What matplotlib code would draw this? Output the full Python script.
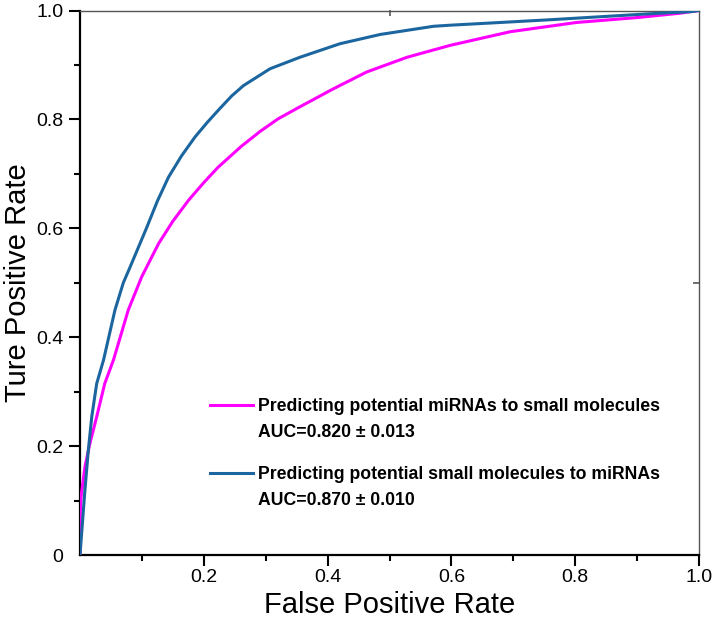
import matplotlib
matplotlib.use("Agg")
import matplotlib.pyplot as plt
from matplotlib.lines import Line2D
import numpy as np

plt.rcParams['font.family'] = ['Liberation Sans', 'DejaVu Sans']

# ROC curve: predicting potential small molecules to miRNAs (blue)
fpr_blue = [0.0, 0.008, 0.0135, 0.019, 0.027, 0.038, 0.0565, 0.07, 0.081, 0.108, 0.125,
            0.143, 0.164, 0.186, 0.206, 0.226, 0.245, 0.264, 0.307, 0.355, 0.42, 0.485, 0.571,
            0.598, 0.679, 0.759, 0.921, 0.988, 1.0]
tpr_blue = [0.0, 0.12, 0.193, 0.254, 0.315, 0.358, 0.45, 0.50, 0.529, 0.602, 0.65,
            0.694, 0.733, 0.768, 0.795, 0.82, 0.843, 0.862, 0.893, 0.914, 0.939, 0.956, 0.971,
            0.973, 0.978, 0.983, 0.994, 0.998, 1.0]

# ROC curve: predicting potential miRNAs to small molecules (magenta)
fpr_mag = [0.0, 0.0005, 0.002, 0.008, 0.016, 0.027, 0.04, 0.054, 0.065, 0.078, 0.0997,
           0.127, 0.15, 0.175, 0.2, 0.223, 0.26, 0.291, 0.32, 0.355, 0.409, 0.463, 0.528,
           0.598, 0.695, 0.802, 0.9, 0.969, 1.0]
tpr_mag = [0.0, 0.08, 0.11, 0.162, 0.205, 0.254, 0.315, 0.358, 0.40, 0.45, 0.511,
           0.572, 0.613, 0.651, 0.684, 0.712, 0.75, 0.778, 0.801, 0.823, 0.856, 0.887, 0.914,
           0.936, 0.961, 0.978, 0.987, 0.995, 1.0]

labels_mag = ["Predicting potential miRNAs to small molecules", "AUC=0.820 \u00b1 0.013"]
labels_blue = ["Predicting potential small molecules to miRNAs", "AUC=0.870 \u00b1 0.010"]

xticks = [0.2, 0.4, 0.6, 0.8, 1.0]
xticklabels = ["0.2", "0.4", "0.6", "0.8", "1.0"]
yticks = [0.0, 0.2, 0.4, 0.6, 0.8, 1.0]
yticklabels = ["0", "0.2", "0.4", "0.6", "0.8", "1.0"]

MAG = "#ff00ff"
BLUE = "#1c66a0"

fig = plt.figure(figsize=(7.15, 6.26), dpi=100)
ax = fig.add_axes([80/715, 71/626, 619/715, 544.5/626])

ax.plot(fpr_mag, tpr_mag, color=MAG, lw=2.2, zorder=3, solid_joinstyle='round')
ax.plot(fpr_blue, tpr_blue, color=BLUE, lw=2.2, zorder=4, solid_joinstyle='round')

ax.set_xlim(0, 1)
ax.set_ylim(0, 1)
ax.set_xticks(xticks)
ax.set_xticklabels(xticklabels)
ax.set_yticks(yticks)
ax.set_yticklabels(yticklabels)
ax.set_xticks(np.arange(0.1, 1.0, 0.2), minor=True)
ax.set_yticks(np.arange(0.1, 1.0, 0.2), minor=True)

ax.tick_params(axis='both', which='major', direction='out', length=8, width=1.5,
               labelsize=14, colors='black')
ax.tick_params(axis='x', which='major', pad=2)
ax.tick_params(axis='y', which='major', pad=4)
ax.tick_params(axis='both', which='minor', direction='out', length=4.5, width=1.5)
ax.yaxis.get_major_ticks()[0].tick1line.set_visible(False)

for s in ['left', 'bottom']:
    ax.spines[s].set_linewidth(1.6)
    ax.spines[s].set_color('black')
for s in ['top', 'right']:
    ax.spines[s].set_linewidth(1.0)
    ax.spines[s].set_color('#555555')

# inner ticks on top/right at 0.5
ax2 = ax.secondary_xaxis('top')
ax2.set_xticks([0.5])
ax2.set_xticklabels([])
ax2.tick_params(direction='in', length=4, width=1.2, colors='#555555')
ax2.spines['top'].set_visible(False)
ay2 = ax.secondary_yaxis('right')
ay2.set_yticks([0.5])
ay2.set_yticklabels([])
ay2.tick_params(direction='in', length=4, width=1.2, colors='#555555')
ay2.spines['right'].set_visible(False)

ax.set_xlabel("False Positive Rate", fontsize=21, labelpad=4)
ax.set_ylabel("Ture Positive Rate", fontsize=21, labelpad=3)

def make_leg(color, labels, anchor):
    handles = [Line2D([], [], color=color, lw=2.2), Line2D([], [], color='none')]
    leg = ax.legend(handles, labels, loc='upper left', bbox_to_anchor=anchor,
                    frameon=False, borderpad=0, borderaxespad=0,
                    handlelength=2.45, handletextpad=0.3, labelspacing=0.5,
                    prop={'weight': 'bold', 'size': 12.7})
    return leg

leg1 = make_leg(MAG, labels_mag, (0.21, 0.288))
ax.add_artist(leg1)
leg2 = make_leg(BLUE, labels_blue, (0.21, 0.163))

fig.savefig("out.png", dpi=100)
